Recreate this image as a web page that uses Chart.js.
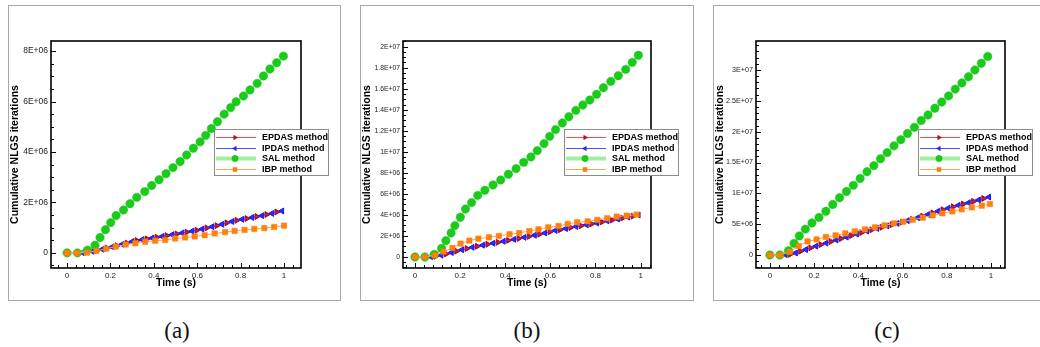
<!DOCTYPE html>
<html><head><meta charset="utf-8">
<script src="https://cdn.jsdelivr.net/npm/chart.js@4.4.1/dist/chart.umd.min.js"></script>
<style>
body{margin:0;width:1040px;height:347px;background:#fff;position:relative;overflow:hidden;font-family:"Liberation Sans",Arial,sans-serif}
.panel{position:absolute;top:5px;height:296px;border:1px solid #a8a8a8;box-sizing:border-box}
canvas{position:absolute;top:5px}
.cap{position:absolute;top:317px;font-family:"Liberation Serif",serif;font-size:23px;line-height:28px;transform:translateX(-50%);color:#111}
</style></head>
<body>
<div class="panel" style="left:8px;width:333px"></div>
<div class="panel" style="left:360px;width:334px"></div>
<div class="panel" style="left:713px;width:340px"></div>
<canvas id="ca" width="332" height="295" style="left:8px"></canvas>
<canvas id="cb" width="333" height="295" style="left:360px"></canvas>
<canvas id="cc" width="327" height="295" style="left:713px"></canvas>
<div class="cap" style="left:177px">(a)</div>
<div class="cap" style="left:527px">(b)</div>
<div class="cap" style="left:887px">(c)</div>
<script>
// ---------- data (y values in units of 1E+06 iterations) ----------
const SERIES_NAMES = ['EPDAS method', 'IPDAS method', 'SAL method', 'IBP method'];
const X_TICKS = [0, 0.2, 0.4, 0.6, 0.8, 1];
const X_TICK_LABELS = ['0', '0.2', '0.4', '0.6', '0.8', '1'];

const E_T = [0,0.046,0.092,0.138,0.184,0.23,0.276,0.322,0.368,0.414,0.46,0.506,0.552,0.598,0.644,0.69,0.736,0.782,0.828,0.874,0.92,0.966];
const I_T = [0,0.07,0.116,0.162,0.208,0.254,0.3,0.346,0.392,0.438,0.484,0.53,0.576,0.622,0.668,0.714,0.76,0.806,0.852,0.898,0.944,0.99];

// panel (a)
const A_EPDAS = [0,0,0.025,0.10,0.19,0.28,0.39,0.49,0.555,0.62,0.684,0.75,0.823,0.897,0.99,1.08,1.19,1.29,1.36,1.44,1.52,1.62];
const A_IPDAS = [0,0.01,0.06,0.144,0.238,0.34,0.45,0.525,0.59,0.653,0.72,0.79,0.862,0.944,1.036,1.134,1.244,1.33,1.403,1.475,1.563,1.66];
const A_SAL_T = [0,0.048,0.094,0.129,0.152,0.177,0.201,0.226,0.26,0.29,0.321,0.358,0.39,0.424,0.456,0.488,0.521,0.551,0.582,0.613,0.639,0.665,0.693,0.724,0.754,0.779,0.813,0.843,0.876,0.905,0.935,0.966,0.997];
const A_SAL = [0,0,0.11,0.30,0.61,0.92,1.20,1.48,1.70,1.95,2.20,2.43,2.67,2.90,3.14,3.38,3.62,3.88,4.15,4.40,4.66,4.93,5.20,5.50,5.76,5.99,6.22,6.46,6.72,7.01,7.29,7.54,7.80];
const A_IBP_T = [0,0.046,0.092,0.135,0.18,0.224,0.27,0.315,0.36,0.406,0.452,0.498,0.544,0.588,0.634,0.68,0.728,0.772,0.818,0.863,0.909,0.954,1.0];
const A_IBP = [0,0,0.01,0.08,0.16,0.25,0.33,0.38,0.44,0.48,0.51,0.57,0.61,0.65,0.70,0.77,0.82,0.87,0.91,0.95,0.98,1.03,1.08];
const A_Y_TICKS = [0, 2, 4, 6, 8];
const A_Y_TICK_LABELS = ['0', '2E+06', '4E+06', '6E+06', '8E+06'];

// panel (b)
const B_EPDAS = [0,0,0.067,0.285,0.554,0.80,1.014,1.208,1.392,1.576,1.762,1.956,2.16,2.39,2.594,2.796,2.97,3.135,3.323,3.516,3.70,3.884];
const B_IPDAS = [0,0.03,0.166,0.422,0.69,0.918,1.12,1.304,1.488,1.672,1.863,2.062,2.28,2.523,2.70,2.89,3.056,3.226,3.428,3.612,3.79,3.99];
const B_SAL_T = [0,0.044,0.086,0.118,0.137,0.16,0.177,0.201,0.224,0.251,0.278,0.31,0.346,0.38,0.414,0.448,0.482,0.514,0.542,0.572,0.597,0.623,0.653,0.682,0.713,0.744,0.775,0.805,0.835,0.868,0.901,0.934,0.963,0.99];
const B_SAL = [0,0,0.25,0.82,1.55,2.28,2.98,3.77,4.56,5.17,5.86,6.34,6.85,7.32,7.86,8.4,9.0,9.51,10.11,10.78,11.47,12.11,12.74,13.34,13.94,14.45,14.93,15.47,16.1,16.7,17.24,17.84,18.51,19.18];
const B_IBP_T = [0,0.044,0.089,0.126,0.166,0.202,0.241,0.281,0.328,0.372,0.419,0.462,0.507,0.547,0.591,0.636,0.677,0.719,0.765,0.808,0.851,0.894,0.938,0.982];
const B_IBP = [0,0,0.16,0.51,0.86,1.27,1.55,1.74,1.87,2.0,2.16,2.28,2.47,2.63,2.82,2.95,3.14,3.3,3.39,3.52,3.68,3.84,3.93,4.03];
const B_Y_TICKS = [0, 2, 4, 6, 8, 10, 12, 14, 16, 18, 20];
const B_Y_TICK_LABELS = ['0','2E+06','4E+06','6E+06','8E+06','1E+07','1.2E+07','1.4E+07','1.6E+07','1.8E+07','2E+07'];

// panel (c)
const C_EPDAS = [0,0,0.12,0.61,1.16,1.68,2.19,2.67,3.15,3.64,4.09,4.50,4.92,5.33,5.79,6.29,6.83,7.35,7.83,8.27,8.70,9.16];
const C_IPDAS = [0,0.06,0.34,0.89,1.44,1.94,2.45,2.91,3.41,3.88,4.31,4.72,5.13,5.57,6.05,6.57,7.11,7.60,8.07,8.48,8.94,9.40];
const C_SAL_T = [0,0.045,0.084,0.109,0.133,0.16,0.19,0.222,0.253,0.284,0.315,0.346,0.377,0.408,0.439,0.47,0.5,0.53,0.561,0.592,0.622,0.653,0.684,0.715,0.746,0.777,0.808,0.838,0.868,0.898,0.927,0.956,0.985];
const C_SAL = [0,0,0.7,1.9,3.1,4.2,5.2,6.1,7.1,8.2,9.3,10.3,11.3,12.4,13.5,14.5,15.6,16.6,17.7,18.7,19.7,20.7,21.8,22.7,23.8,24.8,25.8,26.9,27.9,28.9,30.0,31.1,32.2];
const C_IBP_T = [0,0.045,0.09,0.13,0.17,0.211,0.253,0.297,0.341,0.384,0.43,0.475,0.519,0.561,0.603,0.646,0.691,0.736,0.78,0.825,0.867,0.913,0.958,0.995];
const C_IBP = [0,0,0.54,1.46,2.22,2.54,2.92,3.19,3.51,3.84,4.16,4.49,4.81,5.14,5.41,5.73,6.05,6.43,6.76,7.08,7.41,7.73,8.0,8.27];
const C_Y_TICKS = [0, 5, 10, 15, 20, 25, 30];
const C_Y_TICK_LABELS = ['0','5E+06','1E+07','1.5E+07','2E+07','2.5E+07','3E+07'];

// ---------- drawing ----------
Chart.defaults.font.family = "'Liberation Sans', Arial, sans-serif";
const pts = (t, v) => t.map((x, i) => ({x, y: v[i]}));

const framePlugin = {
  id: 'frame',
  afterDatasetsDraw(chart, args, o) {
    const {ctx, chartArea: a, scales: {x, y}} = chart;
    ctx.save();
    ctx.strokeStyle = '#000';
    ctx.lineWidth = 1;
    ctx.beginPath();
    const doTicks = (scale, step, majors, horiz) => {
      const k0 = Math.ceil(scale.min / step - 1e-9), k1 = Math.floor(scale.max / step + 1e-9);
      for (let k = k0; k <= k1; k++) {
        const v = k * step;
        const isMajor = majors.some(m => Math.abs(m - v) < step * 1e-3);
        const len = isMajor ? 5 : 3;
        const p = Math.round(scale.getPixelForValue(v)) + 0.5;
        if (horiz) { ctx.moveTo(p, a.bottom); ctx.lineTo(p, a.bottom - len); }
        else { ctx.moveTo(a.left, p); ctx.lineTo(a.left + len, p); }
      }
    };
    doTicks(x, o.xMinor, o.xMajor, true);
    doTicks(y, o.yMinor, o.yMajor, false);
    ctx.stroke();
    ctx.lineWidth = 1.6;
    ctx.strokeRect(a.left, a.top, a.right - a.left, a.bottom - a.top);
    ctx.restore();
  },
  afterDraw(chart) {
    const {ctx, chartArea: a} = chart;
    const L = Math.round(a.right - 87), T = Math.round(a.top + 88), W = 114, H = 46;
    ctx.save();
    ctx.fillStyle = '#fff';
    ctx.fillRect(L, T, W, H);
    ctx.strokeStyle = '#8c8c8c';
    ctx.lineWidth = 1;
    ctx.strokeRect(L + 0.5, T + 0.5, W, H);
    chart.data.datasets.forEach((ds, i) => {
      const cy = Math.round(T + 8 + i * 10.7) + 0.5;
      ctx.strokeStyle = ds.legendLine;
      ctx.lineWidth = ds.legendWidth;
      ctx.beginPath(); ctx.moveTo(L + 2, cy); ctx.lineTo(L + 42, cy); ctx.stroke();
      ctx.fillStyle = ds.pointBackgroundColor;
      ctx.strokeStyle = ds.pointBorderColor;
      ctx.lineWidth = 0.5;
      Chart.helpers.drawPoint(ctx, {pointStyle: ds.pointStyle, rotation: ds.rotation || 0, radius: ds.pointRadius * 0.75, borderWidth: 0.5}, L + 21, cy);
      ctx.fillStyle = '#000';
      ctx.font = "bold 9px 'Liberation Sans', Arial, sans-serif";
      ctx.textBaseline = 'middle';
      ctx.textAlign = 'left';
      ctx.fillText(ds.label, L + 48, cy);
    });
    ctx.restore();
  }
};

function makePanel(id, p) {
  const datasets = [
    {label: SERIES_NAMES[0], data: pts(E_T, p.epdas), borderColor: '#ff4a4a', borderWidth: 1,
     pointStyle: 'triangle', rotation: 90, pointRadius: 3.4, pointBackgroundColor: '#d40000', pointBorderColor: '#c00000',
     pointBorderWidth: 1, legendLine: '#ff4a4a', legendWidth: 1, order: 3},
    {label: SERIES_NAMES[1], data: pts(I_T, p.ipdas), borderColor: '#4b4bff', borderWidth: 1,
     pointStyle: 'triangle', rotation: -90, pointRadius: 3.4, pointBackgroundColor: '#2a2aff', pointBorderColor: '#1a1ae0',
     pointBorderWidth: 1, legendLine: '#4b4bff', legendWidth: 1, order: 2},
    {label: SERIES_NAMES[2], data: pts(p.salT, p.sal), borderColor: '#9be89b', borderWidth: 1.5,
     pointStyle: 'circle', pointRadius: 4.2, pointBackgroundColor: '#19cc19', pointBorderColor: '#19c019',
     pointBorderWidth: 0.5, legendLine: '#a4eea4', legendWidth: 4, order: 1},
    {label: SERIES_NAMES[3], data: pts(p.ibpT, p.ibp), borderColor: '#ffa558', borderWidth: 1,
     pointStyle: 'rect', pointRadius: 3.8, pointBackgroundColor: '#ff8010', pointBorderColor: '#ff7a00',
     pointBorderWidth: 0.5, legendLine: '#ffa558', legendWidth: 1, order: 0}
  ];
  datasets.forEach(d => { d.showLine = true; d.fill = false; d.tension = 0; });
  return new Chart(document.getElementById(id), {
    type: 'scatter',
    data: {datasets},
    options: {
      responsive: false, animation: false, events: [],
      layout: {padding: {left: 0, top: 36, right: p.padRight, bottom: 0}},
      plugins: {legend: {display: false}, tooltip: {enabled: false},
        frame: {xMinor: 0.04, xMajor: X_TICKS, yMinor: p.yMinor, yMajor: p.yTicks}},
      scales: {
        x: {type: 'linear', min: p.xMin, max: p.xMax,
          grid: {display: false, drawTicks: false}, border: {display: false},
          afterBuildTicks: s => { s.ticks = X_TICKS.map(v => ({value: v})); },
          afterFit: s => { s.height = 32; },
          ticks: {font: {size: 8}, color: '#222', padding: 3, maxRotation: 0, autoSkip: false,
            callback: (v) => X_TICK_LABELS[X_TICKS.indexOf(v)] ?? ''},
          title: {display: true, text: 'Time (s)', color: '#000', font: {size: 10.5, weight: 'bold'}, padding: {top: 0, bottom: 11}}
        },
        y: {type: 'linear', min: p.yMin, max: p.yMax,
          grid: {display: false, drawTicks: false}, border: {display: false},
          afterBuildTicks: s => { s.ticks = p.yTicks.map(v => ({value: v})); },
          afterFit: s => { s.width = 43; },
          ticks: {font: {size: p.yFont}, color: '#222', padding: 3, autoSkip: false,
            callback: (v) => p.yLabels[p.yTicks.indexOf(v)] ?? ''},
          title: {display: true, text: 'Cumulative NLGS iterations', color: '#000', font: {size: 10.5, weight: 'bold'}, padding: {top: 1, bottom: 0}}
        }
      }
    },
    plugins: [framePlugin]
  });
}

makePanel('ca', {epdas: A_EPDAS, ipdas: A_IPDAS, salT: A_SAL_T, sal: A_SAL, ibpT: A_IBP_T, ibp: A_IBP,
  yTicks: A_Y_TICKS, yLabels: A_Y_TICK_LABELS, yMin: -0.6, yMax: 8.4, yMinor: 0.5, yFont: 8.5,
  xMin: -0.074, xMax: 1.078, padRight: 39});
makePanel('cb', {epdas: B_EPDAS, ipdas: B_IPDAS, salT: B_SAL_T, sal: B_SAL, ibpT: B_IBP_T, ibp: B_IBP,
  yTicks: B_Y_TICKS, yLabels: B_Y_TICK_LABELS, yMin: -1.05, yMax: 20.54, yMinor: 0.5, yFont: 6.8,
  xMin: -0.053, xMax: 1.046, padRight: 42});
makePanel('cc', {epdas: C_EPDAS, ipdas: C_IPDAS, salT: C_SAL_T, sal: C_SAL, ibpT: C_IBP_T, ibp: C_IBP,
  yTicks: C_Y_TICKS, yLabels: C_Y_TICK_LABELS, yMin: -2.1, yMax: 34.7, yMinor: 1, yFont: 7.2,
  xMin: -0.063, xMax: 1.063, padRight: 35});
</script>
</body></html>
